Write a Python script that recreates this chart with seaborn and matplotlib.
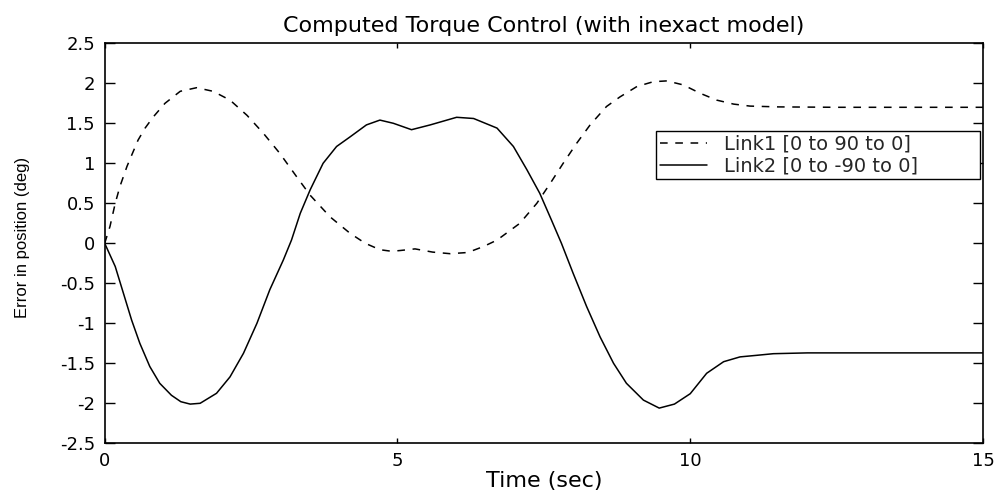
import matplotlib
matplotlib.use("Agg")
import matplotlib.pyplot as plt
import seaborn as sns
import pandas as pd

# ---- data ----
t_link1 = [0.00, 0.09, 0.18, 0.26, 0.38, 0.46, 0.57, 0.69, 0.83, 1.03, 1.29, 1.57,
           1.85, 2.14, 2.43, 2.71, 2.99, 3.28, 3.51, 3.85, 4.19, 4.45, 4.70, 4.90,
           5.05, 5.30, 5.60, 5.90, 6.20, 6.47, 6.70, 7.09, 7.38, 7.61, 7.83, 8.06,
           8.29, 8.57, 8.80, 9.09, 9.37, 9.60, 9.88, 10.17, 10.45, 10.74, 11.02,
           11.50, 12.50, 15.00]
y_link1 = [0.00, 0.21, 0.50, 0.71, 0.96, 1.10, 1.29, 1.44, 1.58, 1.75, 1.90, 1.945,
           1.90, 1.79, 1.60, 1.375, 1.125, 0.83, 0.60, 0.33, 0.125, 0.00, -0.08, -0.10,
           -0.09, -0.07, -0.11, -0.13, -0.115, -0.04, 0.04, 0.25, 0.50, 0.75, 1.00, 1.25,
           1.48, 1.71, 1.83, 1.96, 2.02, 2.03, 1.98, 1.875, 1.79, 1.74, 1.715,
           1.705, 1.70, 1.70]

t_link2 = [0.00, 0.18, 0.32, 0.46, 0.60, 0.77, 0.94, 1.14, 1.30, 1.46, 1.63, 1.91,
           2.14, 2.37, 2.60, 2.82, 3.05, 3.19, 3.34, 3.51, 3.73, 3.96, 4.19, 4.47,
           4.70, 4.93, 5.24, 5.56, 6.01, 6.30, 6.70, 6.98, 7.21, 7.43, 7.63, 7.80,
           8.00, 8.23, 8.46, 8.69, 8.91, 9.20, 9.47, 9.73, 10.00, 10.28, 10.57, 10.85,
           11.14, 11.42, 12.00, 15.00]
y_link2 = [0.00, -0.29, -0.625, -0.96, -1.25, -1.54, -1.75, -1.90, -1.98, -2.01, -2.00, -1.875,
           -1.67, -1.375, -1.00, -0.58, -0.21, 0.04, 0.375, 0.67, 1.00, 1.21, 1.33, 1.48,
           1.54, 1.50, 1.42, 1.48, 1.575, 1.56, 1.44, 1.21, 0.92, 0.625, 0.29, 0.00,
           -0.375, -0.79, -1.17, -1.50, -1.75, -1.96, -2.06, -2.01, -1.88, -1.625, -1.48, -1.42,
           -1.40, -1.38, -1.37, -1.37]

series_labels = ["Link1 [0 to 90 to 0]", "Link2 [0 to -90 to 0]"]
x_ticks = [0, 5, 10, 15]
y_ticks = [-2.5, -2, -1.5, -1, -0.5, 0, 0.5, 1, 1.5, 2, 2.5]
y_tick_labels = ["-2.5", "-2", "-1.5", "-1", "-0.5", "0", "0.5", "1", "1.5", "2", "2.5"]
x_tick_labels = ["0", "5", "10", "15"]
title_text = "Computed Torque Control (with inexact model)"
x_label = "Time (sec)"
y_label = "Error in position (deg)"

df = pd.concat([
    pd.DataFrame({"t": t_link1, "err": y_link1, "link": series_labels[0]}),
    pd.DataFrame({"t": t_link2, "err": y_link2, "link": series_labels[1]}),
], ignore_index=True)

sns.set_style("white")
plt.rcParams["font.family"] = ["DejaVu Sans"]

fig = plt.figure(figsize=(9.98, 4.92), dpi=100)
ax = fig.add_axes([0.1049, 0.099, 0.8801, 0.813])

sns.lineplot(data=df, x="t", y="err", hue="link", style="link",
             palette={series_labels[0]: "black", series_labels[1]: "black"},
             dashes={series_labels[0]: (5, 5), series_labels[1]: ""},
             estimator=None, sort=False, linewidth=1.1, ax=ax)

ax.set_xlim(0, 15)
ax.set_ylim(-2.5, 2.5)
ax.set_xticks(x_ticks)
ax.set_xticklabels(x_tick_labels)
ax.set_yticks(y_ticks)
ax.set_yticklabels(y_tick_labels)

for s in ax.spines.values():
    s.set_visible(True)
    s.set_color("black")
    s.set_linewidth(1.2)

ax.tick_params(axis="y", which="both", direction="in", length=7, width=1.0,
               left=True, right=True, labelsize=13, pad=7, colors="black")
ax.tick_params(axis="x", which="both", direction="in", length=3.6, width=1.0,
               bottom=True, top=True, labelsize=13, pad=6, colors="black")

ax.set_title(title_text, fontsize=16, pad=8, color="black")
ax.set_xlabel(x_label, fontsize=16, color="black")
ax.xaxis.set_label_coords(0.5, -0.07)
ax.set_ylabel(y_label, fontsize=12, color="black",
              fontfamily=["Liberation Sans", "DejaVu Sans"])
ax.yaxis.set_label_coords(-0.085, 0.515)

leg = ax.legend(loc="upper left", bbox_to_anchor=(0.628, 0.656, 0.3686, 0.1255),
                mode="expand", frameon=True, fancybox=False, shadow=False,
                framealpha=1, edgecolor="black", fontsize=14, handlelength=2.4,
                handletextpad=0.9, borderpad=0.2, labelspacing=0.15,
                borderaxespad=0)
leg.get_frame().set_linewidth(1.0)
for h in leg.get_lines():
    h.set_linewidth(1.1)

fig.savefig("out.png", dpi=100, facecolor="white")
